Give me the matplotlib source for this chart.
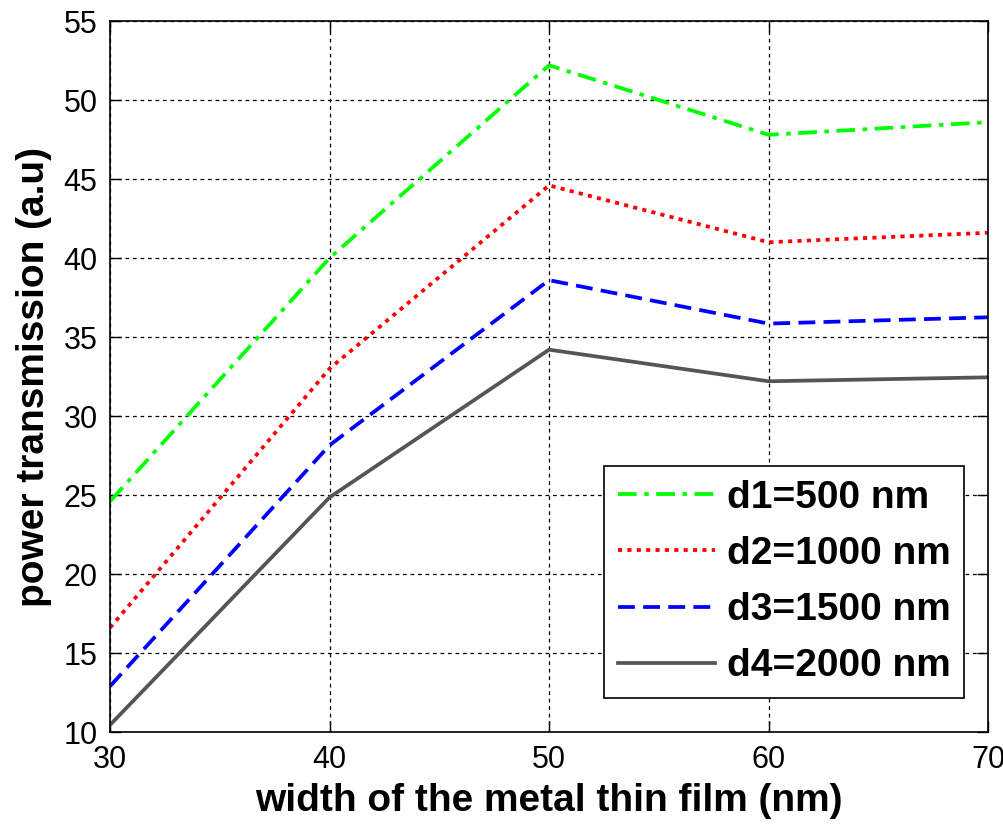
import numpy as np
import matplotlib.pyplot as plt

plt.rcParams['font.family'] = ['Liberation Sans', 'DejaVu Sans']

# data
width_nm = [30, 40, 50, 60, 70]
d1_500 = [24.6, 40.0, 52.2, 47.8, 48.6]
d2_1000 = [16.6, 33.0, 44.6, 41.0, 41.6]
d3_1500 = [12.9, 28.15, 38.6, 35.85, 36.25]
d4_2000 = [10.45, 24.85, 34.2, 32.2, 32.45]

fig = plt.figure(figsize=(10.04, 8.25), dpi=100)
ax = fig.add_axes([0.1096, 0.1127, 0.8745, 0.8618])

ax.plot(width_nm, d1_500, color='#00ff00', linestyle=(0, (5, 2, 1.2, 2)), lw=2.7, label='d1=500 nm')
ax.plot(width_nm, d2_1000, color='#ff0000', linestyle=(0, (1.1, 1.4)), lw=2.7, label='d2=1000 nm')
ax.plot(width_nm, d3_1500, color='#0000ff', linestyle=(0, (4.5, 2.2)), lw=2.7, label='d3=1500 nm')
ax.plot(width_nm, d4_2000, color='#555555', linestyle='-', lw=2.7, label='d4=2000 nm')

ax.set_xlim(30, 70)
ax.set_ylim(10, 55)
ax.set_xticks(np.arange(30, 71, 10))
ax.set_yticks(np.arange(10, 56, 5))
ax.grid(True, color='black', linestyle=(0, (3, 3)), linewidth=0.9)
ax.tick_params(direction='in', top=True, right=True, length=8, width=1,
               labelsize=22, pad=9)
for s in ax.spines.values():
    s.set_linewidth(1.2)

ax.set_xlabel('width of the metal thin film (nm)', fontsize=28, fontweight='bold', labelpad=6)
ax.set_ylabel('power transmission (a.u)', fontsize=28, fontweight='bold', labelpad=8)

leg = ax.legend(loc='upper right', bbox_to_anchor=(0.973, 0.374), borderaxespad=0,
                prop={'weight': 'bold', 'size': 28}, fancybox=False,
                edgecolor='black', framealpha=1, handlelength=2.5, labelspacing=0.52,
                borderpad=0.35, handletextpad=0.3)
leg.get_frame().set_linewidth(1.2)

fig.savefig('out.png', dpi=100)
